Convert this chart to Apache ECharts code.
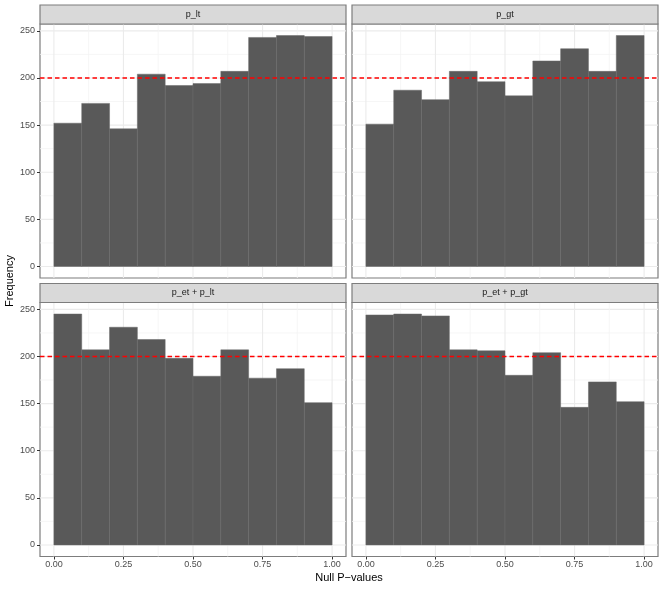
<!DOCTYPE html>
<html lang="en">
<head>
<meta charset="UTF-8">
<title>Null P-values</title>
<script src="https://cdn.jsdelivr.net/npm/echarts@6/dist/echarts.min.js"></script>
<style>
  html, body { margin: 0; padding: 0; background: #fff; }
  #chart { width: 664px; height: 591px; }
</style>
</head>
<body>
<div id="chart"></div>
<script>
// histogram bins (edges) and counts per facet
var binEdges = [0, 0.1, 0.2, 0.3, 0.4, 0.5, 0.6, 0.7, 0.8, 0.9, 1.0];
var facetNames = ['p_lt', 'p_gt', 'p_et + p_lt', 'p_et + p_gt'];
var countsPLt    = [152, 173, 146, 204, 192, 194, 207, 243, 245, 244];
var countsPGt    = [151, 187, 177, 207, 196, 181, 218, 231, 207, 245];
var countsPEtPLt = [245, 207, 231, 218, 198, 179, 207, 177, 187, 151];
var countsPEtPGt = [244, 245, 243, 207, 206, 180, 204, 146, 173, 152];
var refLine = 200;

var xTicks = [0, 0.25, 0.5, 0.75, 1];
var xMinor = [0.125, 0.375, 0.625, 0.875];
var yTicks = [0, 50, 100, 150, 200, 250];
var yMinor = [25, 75, 125, 175, 225];

var xRange = [-0.05, 1.05];
var yRange = [-12.25, 257.25];

var allCounts = [countsPLt, countsPGt, countsPEtPLt, countsPEtPGt];

var FONT = '"Liberation Sans", Arial, sans-serif';
var BORDER = '#7d7d7d';

// panel boxes in pixels
var panels = [
    {left: 40,  top: 24,    width: 306, height: 254},
    {left: 352, top: 24,    width: 306, height: 254},
    {left: 40,  top: 302.5, width: 306, height: 254},
    {left: 352, top: 302.5, width: 306, height: 254}
];
var stripH = 19;

var myChart = echarts.init(document.getElementById('chart'));

function gridRender(params, api) {
    var kind = api.value(0);
    var v = api.value(1);
    var cs = params.coordSys;
    var major = kind % 2 === 0;
    var style = {stroke: major ? '#EBEBEB' : '#F4F4F4', lineWidth: major ? 1.1 : 0.8};
    if (kind < 2) {
        var y = api.coord([0, v])[1];
        return {type: 'line', shape: {x1: cs.x, y1: y, x2: cs.x + cs.width, y2: y}, style: style};
    }
    var x = api.coord([v, 0])[0];
    return {type: 'line', shape: {x1: x, y1: cs.y, x2: x, y2: cs.y + cs.height}, style: style};
}

function barRender(params, api) {
    var p0 = api.coord([api.value(0), 0]);
    var p1 = api.coord([api.value(1), api.value(2)]);
    return {
        type: 'rect',
        shape: {x: p0[0], y: p1[1], width: p1[0] - p0[0], height: p0[1] - p1[1]},
        style: {fill: '#595959', stroke: '#696969', lineWidth: 0.5}
    };
}

function hlineRender(params, api) {
    var cs = params.coordSys;
    var y = api.coord([0, api.value(0)])[1];
    return {
        type: 'line',
        shape: {x1: cs.x, y1: y, x2: cs.x + cs.width, y2: y},
        style: {stroke: '#FF0000', lineWidth: 1.35, lineDash: [4.5, 3]}
    };
}

var gridLineData = [];
yTicks.forEach(function (v) { gridLineData.push([0, v]); });
yMinor.forEach(function (v) { gridLineData.push([1, v]); });
xTicks.forEach(function (v) { gridLineData.push([2, v]); });
xMinor.forEach(function (v) { gridLineData.push([3, v]); });

var grids = [], xAxes = [], yAxes = [], series = [], graphics = [];

for (var i = 0; i < 4; i++) {
    var p = panels[i];
    var bottomRow = i >= 2;
    var leftCol = i % 2 === 0;

    grids.push({
        left: p.left, top: p.top, width: p.width, height: p.height,
        show: true, backgroundColor: '#fff', borderColor: BORDER, borderWidth: 1.2
    });

    xAxes.push({
        gridIndex: i, type: 'value', min: xRange[0], max: xRange[1],
        axisLine: {show: false, onZero: false}, splitLine: {show: false},
        axisTick: {show: bottomRow, customValues: xTicks, length: 3, lineStyle: {color: '#333', width: 1}},
        axisLabel: {
            show: bottomRow, customValues: xTicks, margin: 4,
            color: '#4d4d4d', fontSize: 9, fontFamily: FONT,
            formatter: function (v) { return v.toFixed(2); }
        }
    });

    yAxes.push({
        gridIndex: i, type: 'value', min: yRange[0], max: yRange[1],
        axisLine: {show: false, onZero: false}, splitLine: {show: false},
        axisTick: {show: leftCol, customValues: yTicks, length: 3, lineStyle: {color: '#333', width: 1}},
        axisLabel: {
            show: leftCol, customValues: yTicks, margin: 5,
            color: '#4d4d4d', fontSize: 9, fontFamily: FONT
        }
    });

    var barData = [];
    for (var b = 0; b < allCounts[i].length; b++) {
        barData.push([binEdges[b], binEdges[b + 1], allCounts[i][b]]);
    }

    series.push({
        type: 'custom', name: 'grid' + i, xAxisIndex: i, yAxisIndex: i,
        z: 1, silent: true, renderItem: gridRender, data: gridLineData,
        encode: {x: -1, y: -1}
    });
    series.push({
        type: 'custom', name: facetNames[i], xAxisIndex: i, yAxisIndex: i,
        z: 2, silent: true, renderItem: barRender, data: barData,
        encode: {x: [0, 1], y: 2}
    });
    series.push({
        type: 'custom', name: 'ref' + i, xAxisIndex: i, yAxisIndex: i,
        z: 3, silent: true, renderItem: hlineRender, data: [[refLine]],
        encode: {y: 0}
    });

    // facet strip
    graphics.push({
        type: 'rect',
        shape: {x: p.left, y: p.top - stripH, width: p.width, height: stripH},
        style: {fill: '#D9D9D9', stroke: BORDER, lineWidth: 1.2},
        z: 10
    });
    graphics.push({
        type: 'text',
        x: p.left + p.width / 2, y: p.top - stripH / 2,
        style: {text: facetNames[i], fill: '#1a1a1a', font: '9px ' + FONT, align: 'center', verticalAlign: 'middle'},
        z: 11
    });
}

graphics.push({
    type: 'text', x: 349, y: 578,
    style: {text: 'Null P\u2212values', fill: '#000', font: '11px ' + FONT, align: 'center', verticalAlign: 'middle'}
});
graphics.push({
    type: 'text', x: 10, y: 281, rotation: Math.PI / 2,
    style: {text: 'Frequency', fill: '#000', font: '11px ' + FONT, align: 'center', verticalAlign: 'middle'}
});

var option = {
    animation: false,
    backgroundColor: '#fff',
    grid: grids,
    xAxis: xAxes,
    yAxis: yAxes,
    series: series,
    graphic: graphics
};

myChart.setOption(option);
</script>
</body>
</html>
